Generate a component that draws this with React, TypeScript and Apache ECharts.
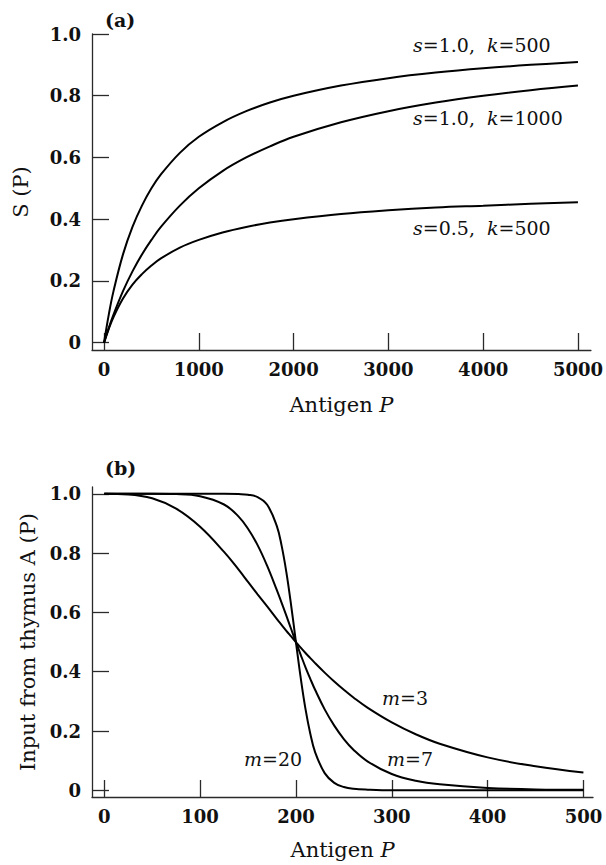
import React, { useEffect, useRef } from "react";
import * as echarts from "echarts";

// ---- Panel (a): S(P) curves ----
const P_A = [0, 50, 100, 200, 300, 400, 500, 600, 800, 1000, 1250, 1500, 1750, 2000, 2500, 3000, 3500, 4000, 4500, 5000];
const S10_K500 = [0, 0.091, 0.167, 0.286, 0.375, 0.444, 0.5, 0.545, 0.615, 0.667, 0.714, 0.75, 0.778, 0.8, 0.833, 0.857, 0.875, 0.889, 0.9, 0.909];
const S10_K1000 = [0, 0.048, 0.091, 0.167, 0.231, 0.286, 0.333, 0.375, 0.444, 0.5, 0.556, 0.6, 0.636, 0.667, 0.714, 0.75, 0.778, 0.8, 0.818, 0.833];
const S05_K500 = [0, 0.045, 0.083, 0.143, 0.188, 0.222, 0.25, 0.273, 0.308, 0.333, 0.357, 0.375, 0.389, 0.4, 0.417, 0.429, 0.438, 0.444, 0.45, 0.455];
const X_TICKS_A = [0, 1000, 2000, 3000, 4000, 5000];

// ---- Panel (b): A(P) curves ----
const P_B = [0, 25, 50, 75, 100, 125, 140, 150, 160, 170, 180, 185, 190, 195, 200, 205, 210, 215, 220, 230, 240, 250, 260, 275, 300, 325, 350, 400, 450, 500];
const M3 = [1, 0.998, 0.985, 0.95, 0.889, 0.804, 0.745, 0.703, 0.661, 0.62, 0.578, 0.558, 0.538, 0.519, 0.5, 0.481, 0.463, 0.446, 0.429, 0.397, 0.367, 0.339, 0.313, 0.278, 0.229, 0.189, 0.157, 0.111, 0.081, 0.06];
const M7 = [1, 1, 1, 0.999, 0.992, 0.964, 0.924, 0.882, 0.827, 0.757, 0.676, 0.633, 0.589, 0.544, 0.5, 0.457, 0.415, 0.376, 0.339, 0.273, 0.218, 0.173, 0.137, 0.097, 0.055, 0.032, 0.02, 0.008, 0.003, 0.002];
const M20 = [1, 1, 1, 1, 1, 1, 0.999, 0.997, 0.989, 0.963, 0.892, 0.826, 0.736, 0.624, 0.5, 0.379, 0.274, 0.191, 0.129, 0.058, 0.025, 0.011, 0.005, 0.002, 0, 0, 0, 0, 0, 0];
const X_TICKS_B = [0, 100, 200, 300, 400, 500];

const Y_TICKS = [0, 0.2, 0.4, 0.6, 0.8, 1.0];

const SERIF = "DejaVu Serif";
const INK = "#111";
const AXIS = "#2a2a2a";

function pairs(xs: number[], ys: number[]) {
  return xs.map((x, i) => [x, ys[i]]);
}

function lineSeries(name: string, xi: number, data: number[][]) {
  return {
    name,
    type: "line",
    xAxisIndex: xi,
    yAxisIndex: xi,
    data,
    showSymbol: false,
    symbol: "none",
    smooth: 0.4,
    lineStyle: { color: "#000", width: 2 },
    silent: true,
  };
}

function xAxisCfg(grid: number, min: number, max: number, ticks: number[], nameGap: number) {
  return {
    type: "value",
    gridIndex: grid,
    min,
    max,
    name: "Antigen {i|P}",
    nameLocation: "middle",
    nameGap,
    nameTextStyle: {
      fontFamily: SERIF,
      fontSize: 21,
      color: INK,
      rich: { i: { fontFamily: SERIF, fontSize: 21, fontStyle: "italic", color: INK } },
    },
    axisLine: { show: true, onZero: false, lineStyle: { color: AXIS, width: 1.3 } },
    axisTick: { show: true, inside: true, length: 17, customValues: ticks, lineStyle: { color: AXIS, width: 1.3 } },
    axisLabel: {
      customValues: ticks,
      margin: 10,
      fontFamily: SERIF,
      fontWeight: "bold",
      fontSize: 18,
      color: INK,
      formatter: (v: number) => String(Math.round(v)),
    },
    splitLine: { show: false },
  };
}

function yAxisCfg(grid: number, min: number, max: number, name: string, nameGap: number) {
  return {
    type: "value",
    gridIndex: grid,
    min,
    max,
    name,
    nameLocation: "middle",
    nameGap,
    nameTextStyle: { fontFamily: SERIF, fontSize: 21, color: INK },
    axisLine: { show: true, onZero: false, lineStyle: { color: AXIS, width: 1.3 } },
    axisTick: { show: true, inside: true, length: 17, customValues: Y_TICKS, lineStyle: { color: AXIS, width: 1.3 } },
    axisLabel: {
      customValues: Y_TICKS,
      margin: 11,
      fontFamily: SERIF,
      fontWeight: "bold",
      fontSize: 18,
      color: INK,
      formatter: (v: number) => (v === 0 ? "0" : v.toFixed(1)),
    },
    splitLine: { show: false },
  };
}

function annot(x: number, y: number, text: string) {
  return {
    type: "text",
    x,
    y,
    silent: true,
    style: {
      text,
      fill: INK,
      fontFamily: SERIF,
      fontSize: 19,
      align: "left",
      verticalAlign: "middle",
      rich: { i: { fontFamily: SERIF, fontSize: 19, fontStyle: "italic", fill: INK } },
    },
  };
}

function panelLabel(x: number, y: number, text: string) {
  return {
    type: "text",
    x,
    y,
    silent: true,
    style: {
      text,
      fill: INK,
      fontFamily: SERIF,
      fontSize: 19,
      fontWeight: "bold",
      align: "left",
      verticalAlign: "middle",
    },
  };
}

export default function App() {
  const ref = useRef<HTMLDivElement>(null);
  useEffect(() => {
    if (!ref.current) return;
    const chart = echarts.init(ref.current, null, { renderer: "svg" });
    chart.setOption({
      animation: false,
      backgroundColor: "#fff",
      grid: [
        { left: 92, right: 15, top: 34, bottom: 515, containLabel: false },
        { left: 92, right: 13, top: 487, bottom: 68, containLabel: false },
      ],
      xAxis: [
        xAxisCfg(0, -127, 5137, X_TICKS_A, 44),
        xAxisCfg(1, -12.8, 510, X_TICKS_B, 42),
      ],
      yAxis: [
        yAxisCfg(0, -0.0237, 1.0, "S (P)", 61),
        yAxisCfg(1, -0.0226, 1.023, "Input from thymus A (P)", 54),
      ],
      series: [
        lineSeries("s=1.0, k=500", 0, pairs(P_A, S10_K500)),
        lineSeries("s=1.0, k=1000", 0, pairs(P_A, S10_K1000)),
        lineSeries("s=0.5, k=500", 0, pairs(P_A, S05_K500)),
        lineSeries("m=3", 1, pairs(P_B, M3)),
        lineSeries("m=7", 1, pairs(P_B, M7)),
        lineSeries("m=20", 1, pairs(P_B, M20)),
      ],
      graphic: [
        panelLabel(105, 20, "(a)"),
        panelLabel(105, 468, "(b)"),
        annot(413, 45, "{i|s}=1.0,  {i|k}=500"),
        annot(413, 118, "{i|s}=1.0,  {i|k}=1000"),
        annot(413, 228, "{i|s}=0.5,  {i|k}=500"),
        annot(382, 698, "{i|m}=3"),
        annot(387, 759, "{i|m}=7"),
        annot(244, 759, "{i|m}=20"),
      ],
    });
    return () => chart.dispose();
  }, []);
  return (
    <div
      ref={ref}
      style={{ position: "fixed", left: 0, top: 0, width: 606, height: 865, background: "#fff" }}
    />
  );
}
